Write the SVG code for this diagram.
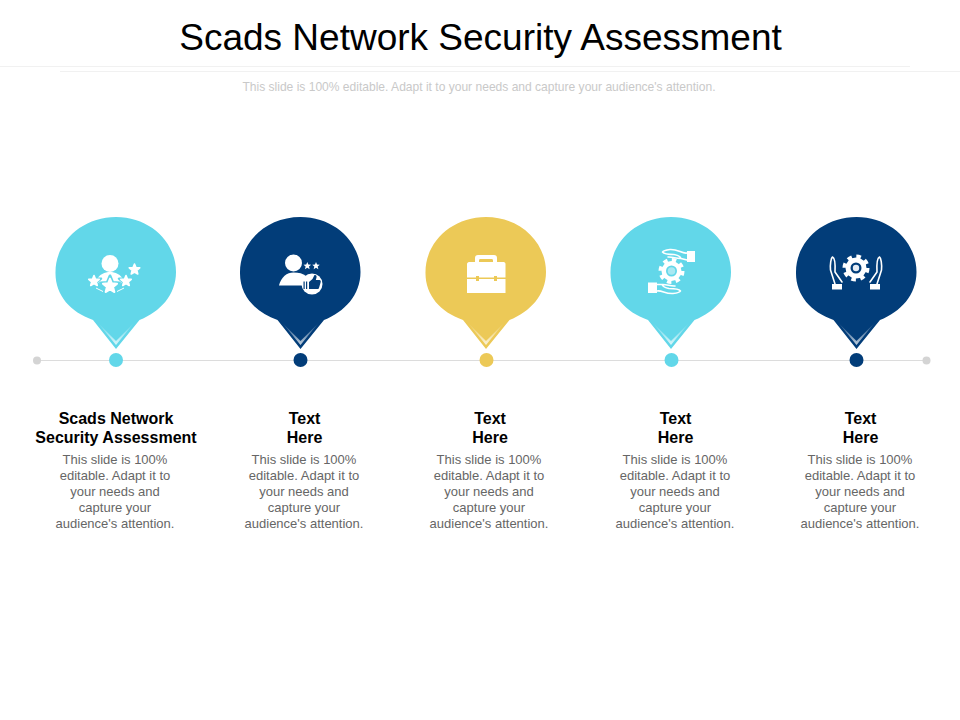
<svg xmlns="http://www.w3.org/2000/svg" width="960" height="720" viewBox="0 0 960 720">
<style>
text{font-family:"Liberation Sans",Arial,sans-serif;text-anchor:middle}
.title{font-size:37px;fill:#000}
.sub{font-size:12.050px;fill:#c9c9c9}
.head{font-size:16px;font-weight:bold;fill:#000}
.body{font-size:13px;fill:#666}
.w{fill:#fff}
.o{fill:none;stroke:#fff;stroke-width:1.600;stroke-linejoin:round;stroke-linecap:round}
.cy{fill:#62d7e9}.nv{fill:#023d79}.ye{fill:#ecc957}
</style>
<defs>
<linearGradient id="fade" x1="0" y1="0" x2="0" y2="1"><stop offset="0" stop-color="#fff" stop-opacity="0.050"/><stop offset="0.700" stop-color="#fff" stop-opacity="0.550"/><stop offset="1" stop-color="#fff" stop-opacity="0.750"/></linearGradient>
<path id="pin" d="M93 320C70 312 55 295 55.500 272C55.500 242 82 217 116 217C150 217 176 242 176 272C176 295 160 312 139.500 320L116 349Z"/>
<polygon id="chev" points="98,323 116,341 134,323 116,345"/>
<polygon id="st" points="0,-1 0.26,-0.36 0.95,-0.31 0.42,0.14 0.59,0.81 0,0.45 -0.59,0.81 -0.42,0.14 -0.95,-0.31 -0.26,-0.36"/>
<path id="hand" d="M835 284L830.500 270C830 264 831 258 832.500 257C835 258 835.500 262 835 272L842 282"/>
</defs>
<rect width="960" height="720" fill="#fff"/>
<g id="header">
<text class="title" x="480.500" y="50">Scads Network Security Assessment</text>
<path d="M0 66.500H910M60 71.500H960" stroke="#f1f1f1" fill="none"/>
<text class="sub" x="479" y="91">This slide is 100% editable. Adapt it to your needs and capture your audience's attention.</text>
</g>
<g id="connectors">
<line x1="37" y1="360.500" x2="927" y2="360.500" stroke="#dcdcdc" stroke-width="1.200"/>
<circle cx="37" cy="360.500" r="4" fill="#d4d4d4"/>
<circle cx="926.500" cy="360.500" r="4" fill="#d4d4d4"/>
</g>

<g id="node-1">
<use href="#pin" class="cy"/>
<use href="#chev" fill="url(#fade)"/>
<circle class="cy" cx="116" cy="360" r="7"/>
<circle class="w" cx="110" cy="263.500" r="8.500"/>
<path class="w" d="M96 281C99 274 105 272 110 272C115 272 121 274 124 281L110 291Z"/>
<path d="M96 288L103 291.500M124 288L117 291.500" stroke="#fff" fill="none"/>
<g stroke-linejoin="round">
<use href="#st" fill="#62d7e9" stroke="#62d7e9" stroke-width="0.300" transform="translate(94 281) scale(7.500)"/>
<use href="#st" fill="#62d7e9" stroke="#62d7e9" stroke-width="0.300" transform="translate(126 281) scale(7.500)"/>
<use href="#st" fill="#62d7e9" stroke="#62d7e9" stroke-width="0.300" transform="translate(110 286) scale(10)"/>
<use href="#st" fill="#fff" stroke="#fff" stroke-width="0.300" transform="translate(94 281) scale(5.500)"/>
<use href="#st" fill="#fff" stroke="#fff" stroke-width="0.300" transform="translate(126 281) scale(5.500)"/>
<use href="#st" fill="#fff" stroke="#fff" stroke-width="0.250" transform="translate(110 286) scale(7.500)"/>
<use href="#st" fill="#fff" stroke="#fff" stroke-width="0.300" transform="translate(134.500 269.500) scale(5.500)"/>
</g>
<text class="head"><tspan x="116" y="424">Scads Network</tspan><tspan x="116" y="443">Security Assessment</tspan></text>
<text class="body"><tspan x="115" y="464">This slide is 100%</tspan><tspan x="115" y="480">editable. Adapt it to</tspan><tspan x="115" y="496">your needs and</tspan><tspan x="115" y="512">capture your</tspan><tspan x="115" y="528">audience's attention.</tspan></text>
</g>

<g id="node-2">
<use href="#pin" class="nv" x="184.500"/>
<use href="#chev" fill="url(#fade)" x="184.500"/>
<circle class="nv" cx="300.500" cy="360" r="7"/>
<circle class="w" cx="293.500" cy="263" r="8.500"/>
<path class="w" d="M279 285.500C281 277 287 272.500 293.500 272.500C299 272.500 303 273.500 306 276L302 285.500Z"/>
<circle class="w" cx="312" cy="284" r="10.500"/>
<use href="#st" class="w" transform="translate(307.300 266) scale(4)"/>
<use href="#st" class="w" transform="translate(316 266) scale(4)"/>
<path class="nv" d="M309 282L312.500 279L314.500 275C316.300 274.700 316.800 276 316.500 277.500L315.800 280H319.500C320.500 280 321 281 320.700 282L319 288C318.800 288.700 318.200 289 317.500 289H309Z"/>
<rect class="nv" x="303.500" y="281.500" width="1.200" height="7.500"/>
<rect class="nv" x="306" y="281.500" width="1.200" height="7.500"/>
<text class="head"><tspan x="304.500" y="424">Text</tspan><tspan x="304.500" y="443">Here</tspan></text>
<text class="body"><tspan x="304" y="464">This slide is 100%</tspan><tspan x="304" y="480">editable. Adapt it to</tspan><tspan x="304" y="496">your needs and</tspan><tspan x="304" y="512">capture your</tspan><tspan x="304" y="528">audience's attention.</tspan></text>
</g>

<g id="node-3">
<use href="#pin" class="ye" x="370"/>
<use href="#chev" fill="url(#fade)" x="370"/>
<circle class="ye" cx="486.500" cy="360" r="7"/>
<path class="w" d="M475 263V258C475 256 476 255 478 255H494C496 255 497 256 497 258V263H493V260.500C493 259.500 492.500 259 491.500 259H480.500C479.500 259 479 259.500 479 260.500V263Z"/>
<path class="w" d="M469 262H503.500C505 262 505.500 263 505.500 264V277.500H497V276H494V277.500H479V276H476V277.500H467V264C467 263 468 262 469 262Z"/>
<path class="w" d="M467 279H476V281H479V279H494V281H497V279H505.500V293H467Z"/>
<text class="head"><tspan x="490" y="424">Text</tspan><tspan x="490" y="443">Here</tspan></text>
<text class="body"><tspan x="489" y="464">This slide is 100%</tspan><tspan x="489" y="480">editable. Adapt it to</tspan><tspan x="489" y="496">your needs and</tspan><tspan x="489" y="512">capture your</tspan><tspan x="489" y="528">audience's attention.</tspan></text>
</g>

<g id="node-4">
<use href="#pin" class="cy" x="555"/>
<use href="#chev" fill="url(#fade)" x="555"/>
<circle class="cy" cx="671.500" cy="360" r="7"/>
<circle class="w" cx="671.500" cy="271" r="10"/>
<circle cx="671.500" cy="271" r="11" fill="none" stroke="#fff" stroke-width="4" stroke-dasharray="4.320 4.320"/>
<circle cx="671.500" cy="271" r="5.500" fill="#62d7e9"/>
<circle cx="671.500" cy="271" r="3.800" fill="#a9e8f2"/>
<rect class="w" x="687" y="251" width="8" height="11"/>
<path class="o" d="M687 253C682 254 678 249 670 249.500C666 250 663 251 662.500 252C664 254 670 254.500 674 254.500C677 255 680 256 681 258.500C677 259 672 256.500 668 257M687 260L681 258.500"/>
<rect class="w" x="648" y="282.500" width="9" height="10.500"/>
<path class="o" d="M657 291C662 290 665 294 673 293.500C677 293 680 292 680.500 291C679 289 673 288.500 669 288.500C666 288 663 287 662 284.500C666 284 671 286.500 675 286M657 284.500L662 284.500"/>
<text class="head"><tspan x="675.500" y="424">Text</tspan><tspan x="675.500" y="443">Here</tspan></text>
<text class="body"><tspan x="675" y="464">This slide is 100%</tspan><tspan x="675" y="480">editable. Adapt it to</tspan><tspan x="675" y="496">your needs and</tspan><tspan x="675" y="512">capture your</tspan><tspan x="675" y="528">audience's attention.</tspan></text>
</g>

<g id="node-5">
<use href="#pin" class="nv" x="740.500"/>
<use href="#chev" fill="url(#fade)" x="740.500"/>
<circle class="nv" cx="856.500" cy="360" r="7"/>
<circle class="w" cx="856" cy="268" r="10.500"/>
<circle cx="856" cy="268" r="11.500" fill="none" stroke="#fff" stroke-width="4" stroke-dasharray="4.516 4.516"/>
<circle cx="856" cy="268" r="5.500" fill="#023d79"/>
<circle cx="856" cy="268" r="3.200" fill="#e6edf5"/>
<use href="#hand" class="o"/>
<rect class="w" x="832" y="284" width="10" height="5.500"/>
<use href="#hand" class="o" transform="matrix(-1 0 0 1 1712 0)"/>
<rect class="w" x="870" y="284" width="10" height="5.500"/>
<text class="head"><tspan x="860.500" y="424">Text</tspan><tspan x="860.500" y="443">Here</tspan></text>
<text class="body"><tspan x="860" y="464">This slide is 100%</tspan><tspan x="860" y="480">editable. Adapt it to</tspan><tspan x="860" y="496">your needs and</tspan><tspan x="860" y="512">capture your</tspan><tspan x="860" y="528">audience's attention.</tspan></text>
</g>
</svg>
